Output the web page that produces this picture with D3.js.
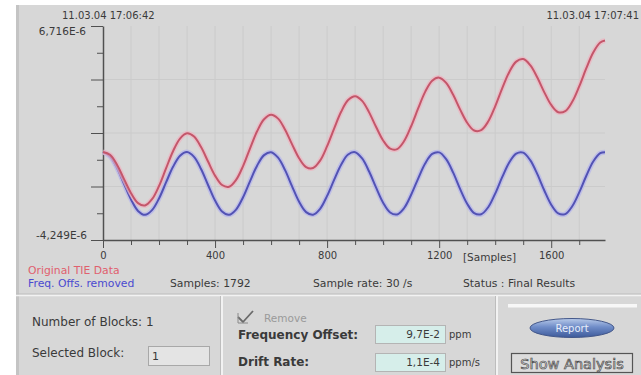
<!DOCTYPE html>
<html>
<head>
<meta charset="utf-8">
<script src="https://cdn.jsdelivr.net/npm/d3@7"></script>
<style>
  body { margin: 0; background: #ffffff; }
  svg { display: block; font-family: "DejaVu Sans", "Liberation Sans", sans-serif; }
  .lbl { fill: #3a3a3a; }
  .axis path, .axis line { stroke: #505050; }
</style>
</head>
<body>
<div class="chart"></div>
<script>

// Sample positions (x) of the read-off points
var samples = [0, 25, 50, 75, 100, 125, 150, 175, 200, 225, 250, 275, 300, 325, 350, 375,
    400, 425, 450, 475, 500, 525, 550, 575, 600, 625, 650, 675, 700, 725, 750, 775,
    800, 825, 850, 875, 900, 925, 950, 975, 1000, 1025, 1050, 1075, 1100, 1125, 1150, 1175,
    1200, 1225, 1250, 1275, 1300, 1325, 1350, 1375, 1400, 1425, 1450, 1475, 1500, 1525, 1550, 1575,
    1600, 1625, 1650, 1675, 1700, 1725, 1750, 1775, 1792];

// Original TIE data (E-6 s)
var originalTie = [0.26, 0.12, -0.39, -1.13, -1.85, -2.36, -2.48, -2.16, -1.48, -0.58, 0.30, 0.95,
    1.22, 1.05, 0.51, -0.23, -0.95, -1.43, -1.52, -1.17, -0.46, 0.45, 1.32, 1.94,
    2.17, 1.97, 1.40, 0.65, -0.06, -0.51, -0.56, -0.18, 0.56, 1.46, 2.32, 2.92,
    3.12, 2.88, 2.29, 1.54, 0.85, 0.43, 0.41, 0.82, 1.58, 2.49, 3.34, 3.91,
    4.07, 3.80, 3.19, 2.43, 1.76, 1.36, 1.38, 1.82, 2.60, 3.52, 4.35, 4.89,
    5.02, 4.71, 4.09, 3.33, 2.67, 2.30, 2.35, 2.83, 3.62, 4.54, 5.36, 5.87, 5.97];

// TIE with frequency offset removed (E-6 s)
var freqRemoved = [0.26, 0.04, -0.55, -1.37, -2.17, -2.76, -2.96, -2.72, -2.12, -1.30, -0.50, 0.07,
    0.26, 0.01, -0.61, -1.43, -2.23, -2.79, -2.96, -2.69, -2.06, -1.23, -0.44, 0.10,
    0.25, -0.03, -0.67, -1.50, -2.29, -2.82, -2.95, -2.65, -1.99, -1.17, -0.39, 0.13,
    0.25, -0.07, -0.74, -1.57, -2.34, -2.84, -2.94, -2.61, -1.93, -1.10, -0.33, 0.16,
    0.24, -0.11, -0.80, -1.64, -2.39, -2.87, -2.93, -2.57, -1.87, -1.03, -0.28, 0.18,
    0.23, -0.16, -0.86, -1.70, -2.44, -2.89, -2.92, -2.52, -1.81, -0.97, -0.23, 0.20, 0.25];

var xTicks = [0, 400, 800, 1200, 1600];
var xMinorTicks = [100, 200, 300, 500, 600, 700, 900, 1000, 1100, 1300, 1400, 1500, 1700];
var xMax = 1792;
var yMin = -4.249, yMax = 6.716;
var yLabels = ["6,716E-6", "-4,249E-6"];
var timeLabels = ["11.03.04 17:06:42", "11.03.04 17:07:41"];
var seriesNames = ["Original TIE Data", "Freq. Offs. removed"];
var seriesColors = ["#c4566a", "#5252b4"];
var haloColors = ["#eeb4c0", "#b4b4ec"];

var W = 641, H = 375;

var svg = d3.select(".chart")
    .append("svg")
        .attr("width", W)
        .attr("height", H);

// Panel background
svg.append("rect")
    .attr("x", 16).attr("y", 5)
    .attr("width", W - 16).attr("height", H - 5)
    .attr("fill", "#d7d7d7");
svg.append("rect")
    .attr("x", 16).attr("y", 5)
    .attr("width", 3).attr("height", H - 5)
    .attr("fill", "#c4c4c4");

// Scales
var x = d3.scaleLinear()
    .domain([0, xMax])
    .range([103, 605]);

var y = d3.scaleLinear()
    .domain([yMin, yMax])
    .range([240, 26]);

var yMajor = d3.range(5).map(function(i) { return yMin + i * (yMax - yMin) / 4; });
var yMinor = d3.range(4).map(function(i) { return yMin + (i + 0.5) * (yMax - yMin) / 4; });

// Grid
svg.append("g")
    .selectAll("line")
    .data(xMinorTicks.concat(xTicks.slice(1)))
    .enter().append("line")
        .attr("x1", function(d) { return x(d); })
        .attr("x2", function(d) { return x(d); })
        .attr("y1", y(yMax)).attr("y2", y(yMin))
        .attr("stroke", "#cbcbcb");

svg.append("g")
    .selectAll("line")
    .data(yMajor.slice(1, 4))
    .enter().append("line")
        .attr("x1", x(0)).attr("x2", x(xMax))
        .attr("y1", function(d) { return y(d); })
        .attr("y2", function(d) { return y(d); })
        .attr("stroke", "#cbcbcb");

// Axes
var yAxis = d3.axisLeft(y)
    .tickValues(yMajor)
    .tickSize(12)
    .tickSizeOuter(0)
    .tickFormat("");

svg.append("g")
    .attr("class", "axis")
    .attr("transform", "translate(" + x(0) + ",0)")
    .call(yAxis)
    .call(function(g) { g.select(".domain").attr("stroke-width", 1.5); });

svg.append("g")
    .attr("class", "axis")
    .attr("transform", "translate(" + x(0) + ",0)")
    .call(d3.axisLeft(y).tickValues(yMinor).tickSize(6).tickFormat(""))
    .call(function(g) { g.select(".domain").remove(); });

var xAxis = d3.axisBottom(x)
    .tickValues(xTicks)
    .tickSize(8)
    .tickSizeOuter(0)
    .tickPadding(4)
    .tickFormat(d3.format("d"));

svg.append("g")
    .attr("class", "axis")
    .attr("transform", "translate(0," + y(yMin) + ")")
    .call(xAxis)
    .call(function(g) {
        g.select(".domain").attr("stroke-width", 1.5);
        g.selectAll("text")
            .attr("fill", "#3a3a3a")
            .style("font-size", "10px")
            .style("font-family", "DejaVu Sans");
    });

svg.append("g")
    .attr("class", "axis")
    .attr("transform", "translate(0," + y(yMin) + ")")
    .call(d3.axisBottom(x).tickValues(xMinorTicks).tickSize(5).tickFormat(""))
    .call(function(g) { g.select(".domain").remove(); });

// Y end labels
svg.append("text")
    .attr("class", "lbl")
    .attr("x", 86).attr("y", y(yMax) + 9)
    .attr("text-anchor", "end")
    .style("font-size", "10.5px")
    .text(yLabels[0]);

svg.append("text")
    .attr("class", "lbl")
    .attr("x", 87).attr("y", y(yMin) - 1)
    .attr("text-anchor", "end")
    .style("font-size", "10.5px")
    .text(yLabels[1]);

svg.append("text")
    .attr("class", "lbl")
    .attr("x", 463).attr("y", 261)
    .style("font-size", "10.5px")
    .text("[Samples]");

// Timestamps
svg.append("text")
    .attr("class", "lbl")
    .attr("x", 62).attr("y", 19)
    .style("font-size", "10px")
    .text(timeLabels[0]);

svg.append("text")
    .attr("class", "lbl")
    .attr("x", 639).attr("y", 19)
    .attr("text-anchor", "end")
    .style("font-size", "10px")
    .text(timeLabels[1]);

// Curves
var rows = samples.map(function(s, i) {
    return { s: s, r: originalTie[i], b: freqRemoved[i] };
});

function lineFor(key) {
    return d3.line()
        .x(function(d) { return x(d.s); })
        .y(function(d) { return y(d[key]); })
        .curve(d3.curveCatmullRom);
}

["b", "r"].forEach(function(key) {
    var idx = key === "r" ? 0 : 1;
    svg.append("path")
        .datum(rows)
        .attr("d", lineFor(key))
        .attr("fill", "none")
        .attr("stroke", haloColors[idx])
        .attr("stroke-width", 5)
        .attr("stroke-opacity", 0.7);
    svg.append("path")
        .datum(rows)
        .attr("d", lineFor(key))
        .attr("fill", "none")
        .attr("stroke", seriesColors[idx])
        .attr("stroke-width", 2);
});

// Legend and status row
svg.append("text")
    .attr("x", 28).attr("y", 274)
    .attr("fill", "#e0606e")
    .style("font-size", "10.8px")
    .text(seriesNames[0]);

svg.append("text")
    .attr("x", 28).attr("y", 287)
    .attr("fill", "#4a4ad0")
    .style("font-size", "10.8px")
    .text(seriesNames[1]);

var statusRow = [
    { x: 170, t: "Samples: 1792" },
    { x: 313, t: "Sample rate: 30 /s" },
    { x: 463, t: "Status : Final Results" }
];

svg.selectAll(".status")
    .data(statusRow)
    .enter().append("text")
        .attr("class", "lbl status")
        .attr("x", function(d) { return d.x; })
        .attr("y", 287)
        .style("font-size", "10.8px")
        .text(function(d) { return d.t; });

// Bottom control panel
svg.append("line")
    .attr("x1", 16).attr("x2", W).attr("y1", 294).attr("y2", 294)
    .attr("stroke", "#bdbdbd");
svg.append("line")
    .attr("x1", 16).attr("x2", W).attr("y1", 295.5).attr("y2", 295.5)
    .attr("stroke", "#f2f2f2").attr("stroke-width", 1.5);

[222, 497].forEach(function(sx) {
    svg.append("line")
        .attr("x1", sx).attr("x2", sx).attr("y1", 296).attr("y2", H)
        .attr("stroke", "#f2f2f2").attr("stroke-width", 2);
    svg.append("line")
        .attr("x1", sx - 1.5).attr("x2", sx - 1.5).attr("y1", 296).attr("y2", H)
        .attr("stroke", "#bdbdbd");
});

// Left section
svg.append("text")
    .attr("class", "lbl")
    .attr("x", 32).attr("y", 326)
    .style("font-size", "12px")
    .text("Number of Blocks: 1");

svg.append("text")
    .attr("class", "lbl")
    .attr("x", 32).attr("y", 357)
    .style("font-size", "12px")
    .text("Selected Block:");

svg.append("rect")
    .attr("x", 148.5).attr("y", 346.5)
    .attr("width", 61).attr("height", 19)
    .attr("fill", "#e4e4e4")
    .attr("stroke", "#a8a8a8");

svg.append("text")
    .attr("class", "lbl")
    .attr("x", 152).attr("y", 360)
    .style("font-size", "11px")
    .text("1");

// Middle section
svg.append("path")
    .attr("d", "M238,317 L243,322 L253,311")
    .attr("fill", "none")
    .attr("stroke", "#6a6a6a")
    .attr("stroke-width", 1.8);
svg.append("path")
    .attr("d", "M238,313 L238,323 L248,323")
    .attr("fill", "none")
    .attr("stroke", "#8a8a8a")
    .attr("stroke-width", 1);

svg.append("text")
    .attr("x", 264).attr("y", 322)
    .attr("fill", "#9a9a9a")
    .style("font-size", "10.5px")
    .text("Remove");

svg.append("text")
    .attr("class", "lbl")
    .attr("x", 238).attr("y", 339)
    .style("font-size", "12px")
    .style("font-weight", "bold")
    .text("Frequency Offset:");

svg.append("text")
    .attr("class", "lbl")
    .attr("x", 238).attr("y", 366)
    .style("font-size", "12px")
    .style("font-weight", "bold")
    .text("Drift Rate:");

var fields = [
    { y: 325, v: "9,7E-2", u: "ppm" },
    { y: 353, v: "1,1E-4", u: "ppm/s" }
];

fields.forEach(function(f) {
    svg.append("rect")
        .attr("x", 375.5).attr("y", f.y + 0.5)
        .attr("width", 70).attr("height", 18)
        .attr("fill", "#d6eeea")
        .attr("stroke", "#b4b4b4");
    svg.append("text")
        .attr("class", "lbl")
        .attr("x", 440).attr("y", f.y + 13)
        .attr("text-anchor", "end")
        .style("font-size", "10.5px")
        .text(f.v);
    svg.append("text")
        .attr("class", "lbl")
        .attr("x", 449).attr("y", f.y + 13)
        .style("font-size", "10px")
        .text(f.u);
});

// Right section
svg.append("rect")
    .attr("x", 508).attr("y", 304)
    .attr("width", 129).attr("height", 3.5)
    .attr("fill", "#f7f7f7");

var grad = svg.append("defs").append("linearGradient")
    .attr("id", "btn")
    .attr("x1", 0).attr("y1", 0).attr("x2", 0).attr("y2", 1);
grad.append("stop").attr("offset", "0%").attr("stop-color", "#b9cbea");
grad.append("stop").attr("offset", "45%").attr("stop-color", "#6f8cc8");
grad.append("stop").attr("offset", "100%").attr("stop-color", "#3d5a9a");

svg.append("ellipse")
    .attr("cx", 572).attr("cy", 328)
    .attr("rx", 42).attr("ry", 9.5)
    .attr("fill", "url(#btn)")
    .attr("stroke", "#44588a");

svg.append("text")
    .attr("x", 572).attr("y", 332)
    .attr("text-anchor", "middle")
    .attr("fill", "#e8eefa")
    .style("font-size", "10px")
    .text("Report");

svg.append("rect")
    .attr("x", 511.5).attr("y", 353.5)
    .attr("width", 121).attr("height", 19)
    .attr("fill", "#dcdcdc")
    .attr("stroke", "#555555")
    .attr("stroke-width", 1.2);

svg.append("text")
    .attr("x", 572).attr("y", 368.5)
    .attr("text-anchor", "middle")
    .attr("fill", "#f4f4f4")
    .attr("stroke", "#4a4a4a")
    .attr("stroke-width", 0.7)
    .style("font-size", "14.5px")
    .text("Show Analysis");

</script>
</body>
</html>
